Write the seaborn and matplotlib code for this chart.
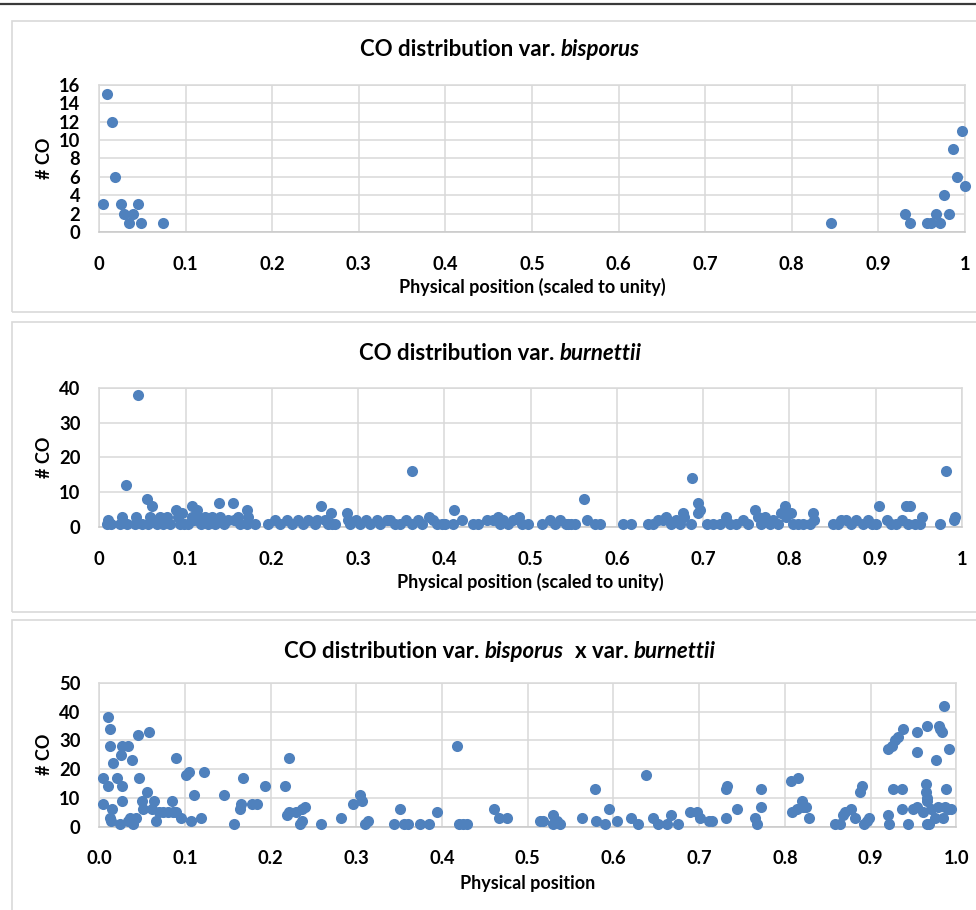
import matplotlib
matplotlib.use("Agg")
import matplotlib.pyplot as plt
import seaborn as sns
from matplotlib.patches import Rectangle
from matplotlib.lines import Line2D

# ---------------- data ----------------
bis_pos = [0.005, 0.009, 0.015, 0.019, 0.025, 0.029, 0.035, 0.039, 0.045, 0.049, 0.074,
           0.845, 0.931, 0.936, 0.956, 0.961, 0.966, 0.971, 0.976, 0.981, 0.986, 0.991, 0.996, 1.0]
bis_co = [3, 15, 12, 6, 3, 2, 1, 2, 3, 1, 1,
          1, 2, 1, 1, 1, 2, 1, 4, 2, 9, 6, 11, 5]

bur_pos = [0.0085, 0.0105, 0.014, 0.024, 0.026, 0.0306, 0.032, 0.0414, 0.043, 0.045, 0.049,
           0.0557, 0.057, 0.059, 0.0615, 0.0626, 0.0665, 0.0703, 0.074, 0.078, 0.082, 0.0885,
           0.0916, 0.0935, 0.096, 0.0985, 0.103, 0.107, 0.107, 0.110, 0.113, 0.1148, 0.118,
           0.1225, 0.126, 0.131, 0.134, 0.1387, 0.14, 0.145, 0.1495, 0.155, 0.156, 0.161, 0.163,
           0.1708, 0.1708, 0.1727, 0.18,
           0.1958, 0.2035, 0.209, 0.217, 0.2229, 0.2306, 0.2364, 0.242, 0.25, 0.252, 0.2565,
           0.2615, 0.265, 0.268, 0.270, 0.273,
           0.2866, 0.2885, 0.2905, 0.298, 0.302, 0.3097, 0.3136, 0.3214, 0.3252, 0.333, 0.337,
           0.3425, 0.3485, 0.356, 0.362, 0.362, 0.3697, 0.3735, 0.3824, 0.387, 0.391, 0.397,
           0.4006, 0.410, 0.411, 0.4199, 0.4334, 0.439, 0.449, 0.4565, 0.4624, 0.4644, 0.4683,
           0.474, 0.479, 0.487, 0.4895, 0.4973, 0.5127, 0.522, 0.5281, 0.534, 0.5415, 0.547,
           0.5435, 0.5512, 0.562, 0.5658, 0.5744, 0.5802, 0.6072, 0.6169, 0.6362, 0.642, 0.6478,
           0.6536, 0.6574, 0.6632, 0.669, 0.6729, 0.6768, 0.678, 0.6856, 0.6876, 0.6935, 0.6962,
           0.6935, 0.704, 0.7114, 0.719, 0.727, 0.731, 0.7385, 0.746, 0.752, 0.7606, 0.7636,
           0.7675, 0.7714, 0.7772, 0.781, 0.7868, 0.7907, 0.7946, 0.7965, 0.8023, 0.8042, 0.81,
           0.8158,
           0.8235, 0.8275, 0.829, 0.8505, 0.856, 0.860, 0.8659, 0.8717, 0.8775, 0.8852, 0.891,
           0.896, 0.9006, 0.9038, 0.913, 0.918, 0.924, 0.93, 0.9347, 0.9375, 0.9394, 0.945,
           0.951, 0.954, 0.974, 0.981, 0.9904, 0.9915]
bur_co = [1, 2, 1, 1, 3, 12, 1, 1, 3, 38, 1,
          8, 1, 3, 6, 2, 1, 3, 1, 3, 1, 5,
          3, 1, 4, 1, 1, 6, 3, 2, 5, 3, 1,
          3, 1, 3, 1, 7, 3, 1, 2, 7, 2, 3, 1,
          5, 1, 3, 1,
          1, 2, 1, 2, 1, 2, 1, 2, 1, 2, 6,
          2, 1, 4, 1, 1,
          4, 2, 1, 2, 1, 2, 1, 2, 1, 2, 2,
          1, 1, 2, 16, 1, 2, 1, 3, 2, 1, 1,
          1, 1, 5, 2, 1, 1, 2, 2, 3, 1, 2,
          1, 2, 3, 1, 1, 1, 2, 1, 2, 1, 1,
          1, 1, 8, 2, 1, 1, 1, 1, 1, 1, 2,
          2, 3, 1, 2, 1, 4, 3, 1, 14, 7, 5,
          4, 1, 1, 1, 3, 1, 1, 2, 1, 5, 3,
          1, 3, 1, 2, 1, 4, 6, 3, 4, 1, 1,
          1,
          1, 4, 2, 1, 1, 2, 2, 1, 2, 1, 2,
          1, 1, 6, 2, 1, 1, 2, 6, 1, 6, 1,
          1, 3, 1, 16, 2, 3]

hyb_pos = [0.0047, 0.0047, 0.0097, 0.0097, 0.013, 0.0124, 0.0155, 0.0147, 0.012, 0.0136,
           0.021, 0.024, 0.0248, 0.026, 0.027, 0.027, 0.0337, 0.0337, 0.0357, 0.038, 0.0388,
           0.043, 0.0446, 0.046, 0.050, 0.051, 0.056, 0.058, 0.061, 0.064, 0.066, 0.070, 0.074,
           0.080, 0.085, 0.086, 0.089, 0.090, 0.095, 0.1016, 0.105, 0.107, 0.111, 0.119, 0.122,
           0.146, 0.157, 0.164, 0.1655, 0.1674, 0.178, 0.184, 0.193, 0.217, 0.2186, 0.221,
           0.2217, 0.230, 0.234, 0.236, 0.237, 0.240, 0.2585, 0.282, 0.296, 0.304, 0.306, 0.310,
           0.314,
           0.344, 0.351, 0.355, 0.3606, 0.374, 0.3847, 0.394, 0.417, 0.420, 0.4247, 0.429,
           0.4606, 0.4664, 0.476, 0.514, 0.5174, 0.529, 0.529, 0.5337, 0.538, 0.563, 0.578,
           0.580, 0.590, 0.5947, 0.6037, 0.621, 0.629, 0.638, 0.646, 0.652, 0.662, 0.6667, 0.6757,
           0.689, 0.698, 0.701, 0.712, 0.7146, 0.731, 0.731, 0.733, 0.744, 0.765, 0.768, 0.772,
           0.772, 0.807, 0.8157, 0.808, 0.814, 0.8196, 0.8216, 0.8246, 0.8285, 0.8585, 0.864,
           0.8675, 0.870, 0.877, 0.882, 0.8876, 0.8896, 0.892, 0.8955, 0.8985, 0.9207, 0.9246,
           0.9285, 0.9323, 0.938, 0.9207, 0.922, 0.9265, 0.937, 0.937, 0.944, 0.950, 0.9538,
           0.9545, 0.9545, 0.961, 0.9647, 0.9647, 0.9654, 0.9654, 0.9654, 0.9685, 0.9654, 0.971,
           0.975, 0.9763, 0.979, 0.980, 0.981, 0.983, 0.984, 0.9856, 0.9867, 0.988, 0.9908,
           0.992, 0.9935]
hyb_co = [17, 8, 38, 14, 34, 28, 22, 6, 3, 2,
          17, 1, 25, 14, 28, 9, 28, 2, 3, 23, 1,
          3, 32, 17, 9, 6, 12, 33, 6, 9, 2, 5, 5,
          5, 9, 5, 24, 5, 3, 18, 19, 2, 11, 3, 19,
          11, 1, 6, 8, 17, 8, 8, 14, 14, 4, 5,
          24, 5, 1, 2, 6, 7, 1, 3, 8, 11, 9, 1,
          2,
          1, 6, 1, 1, 1, 1, 5, 28, 1, 1, 1,
          6, 3, 3, 2, 2, 4, 1, 2, 1, 3, 13,
          2, 1, 6, 2, 3, 1, 18, 3, 1, 1, 4, 1,
          5, 5, 3, 2, 2, 3, 13, 14, 6, 3, 1, 7,
          13, 16, 17, 5, 6, 9, 7, 7, 3, 1, 1,
          4, 5, 6, 3, 12, 14, 1, 2, 3, 27, 28,
          30, 31, 34, 4, 1, 13, 13, 6, 1, 6, 7,
          26, 33, 5, 15, 12, 10, 9, 1, 1, 35, 6,
          3, 23, 7, 35, 34, 33, 3, 42, 7, 13, 6,
          27, 6]

x_ticks = [0, 0.1, 0.2, 0.3, 0.4, 0.5, 0.6, 0.7, 0.8, 0.9, 1.0]
x_labels_a = ["0", "0.1", "0.2", "0.3", "0.4", "0.5", "0.6", "0.7", "0.8", "0.9", "1"]
x_labels_b = ["0.0", "0.1", "0.2", "0.3", "0.4", "0.5", "0.6", "0.7", "0.8", "0.9", "1.0"]
y_ticks_1 = [0, 2, 4, 6, 8, 10, 12, 14, 16]
y_ticks_2 = [0, 10, 20, 30, 40]
y_ticks_3 = [0, 10, 20, 30, 40, 50]

# ---------------- style ----------------
sns.set_style("white")
FONT = ["Lato", "DejaVu Sans"]
plt.rcParams["font.family"] = FONT
W, H = 976, 910
fig = plt.figure(figsize=(W / 100, H / 100), dpi=100)
fig.patch.set_facecolor("white")

BLUE = "#4f81bd"
GRID = "#d9d9d9"
TXT = "#000000"


def fx(px):
    return px / W


def fy(py):
    return 1 - py / H


# top rule
fig.add_artist(Line2D([0, 1], [fy(4), fy(4)], color="#3a3a3a", lw=1.6, transform=fig.transFigure))
# panel boxes
for top, bot in [(21, 312), (322, 612), (620, 930)]:
    fig.add_artist(Rectangle((fx(12), fy(bot)), fx(1000) - fx(12), fy(top) - fy(bot),
                             transform=fig.transFigure, fill=False, edgecolor=GRID, lw=1.2))

panels = [
    dict(rect=(99, 965, 84.7, 232), x=bis_pos, y=bis_co, yt=y_ticks_1, xl=x_labels_a,
         title=[("CO distribution var.", "normal"), (" ", None), ("bisporus", "italic")],
         title_y=50, xlabel="Physical position (scaled to unity)", xlabel_y=287),
    dict(rect=(99.3, 962, 387.7, 527.3), x=bur_pos, y=bur_co, yt=y_ticks_2, xl=x_labels_a,
         title=[("CO distribution var.", "normal"), (" ", None), ("burnettii", "italic")],
         title_y=353, xlabel="Physical position (scaled to unity)", xlabel_y=582),
    dict(rect=(99.3, 956.3, 682.7, 826.7), x=hyb_pos, y=hyb_co, yt=y_ticks_3, xl=x_labels_b,
         title=[("CO distribution var.", "normal"), (" ", None), ("bisporus", "italic"),
                ("  ", None), ("x var.", "normal"), (" ", None), ("burnettii", "italic")],
         title_y=651, xlabel="Physical position", xlabel_y=883),
]

renderer = fig.canvas.get_renderer()
TITLE_SIZE = 16
TICK_SIZE = 13.2
LABEL_SIZE = 13


def mixed_title(parts, xc, yc):
    probe = fig.text(0, 0, "a a", fontsize=TITLE_SIZE, fontweight="bold")
    w2 = probe.get_window_extent(renderer).width
    probe.set_text("aa")
    w1 = probe.get_window_extent(renderer).width
    probe.remove()
    space = w2 - w1
    widths = []
    for txt, st in parts:
        if st is None:
            widths.append(space * len(txt))
        else:
            t = fig.text(0, 0, txt, fontsize=TITLE_SIZE, fontweight="bold", fontstyle=st)
            widths.append(t.get_window_extent(renderer).width)
            t.remove()
    total = sum(widths)
    x = xc - total / 2
    for (txt, st), w in zip(parts, widths):
        if st is not None:
            fig.text(fx(x), fy(yc), txt, fontsize=TITLE_SIZE, fontweight="bold", fontstyle=st,
                     ha="left", va="center", color=TXT)
        x += w


for p in panels:
    x0, x1, ytop, ybot = p["rect"]
    ax = fig.add_axes([fx(x0), fy(ybot), fx(x1) - fx(x0), fy(ytop) - fy(ybot)])
    sns.scatterplot(x=p["x"], y=p["y"], ax=ax, color=BLUE, s=64, linewidth=0, alpha=1,
                    clip_on=False, zorder=3)
    ax.set_xlim(0, 1)
    ax.set_ylim(p["yt"][0], p["yt"][-1])
    ax.set_xticks(x_ticks)
    ax.set_xticklabels(p["xl"])
    ax.set_yticks(p["yt"])
    ax.set_yticklabels([str(v) for v in p["yt"]])
    ax.grid(True, color=GRID, lw=1.1)
    ax.set_axisbelow(True)
    for s in ax.spines.values():
        s.set_visible(True)
        s.set_color(GRID)
        s.set_linewidth(1.1)
    ax.spines["bottom"].set_color("#c8c8c8")
    ax.tick_params(axis="both", length=0, labelsize=TICK_SIZE, colors=TXT)
    ax.tick_params(axis="x", pad=17)
    ax.tick_params(axis="y", pad=13.5)
    for lab in ax.get_xticklabels() + ax.get_yticklabels():
        lab.set_fontweight("bold")
    ax.set_xlabel("")
    ax.set_ylabel("")
    xc = (x0 + x1) / 2
    fig.text(fx(xc), fy(p["xlabel_y"]), p["xlabel"], fontsize=LABEL_SIZE, fontweight="bold",
             ha="center", va="center", color=TXT)
    fig.text(fx(45), fy((ytop + ybot) / 2), "# CO", fontsize=LABEL_SIZE, fontweight="bold",
             rotation=90, ha="center", va="center", color=TXT)
    mixed_title(p["title"], 500, p["title_y"])

fig.savefig("out.png", dpi=100, facecolor="white")
